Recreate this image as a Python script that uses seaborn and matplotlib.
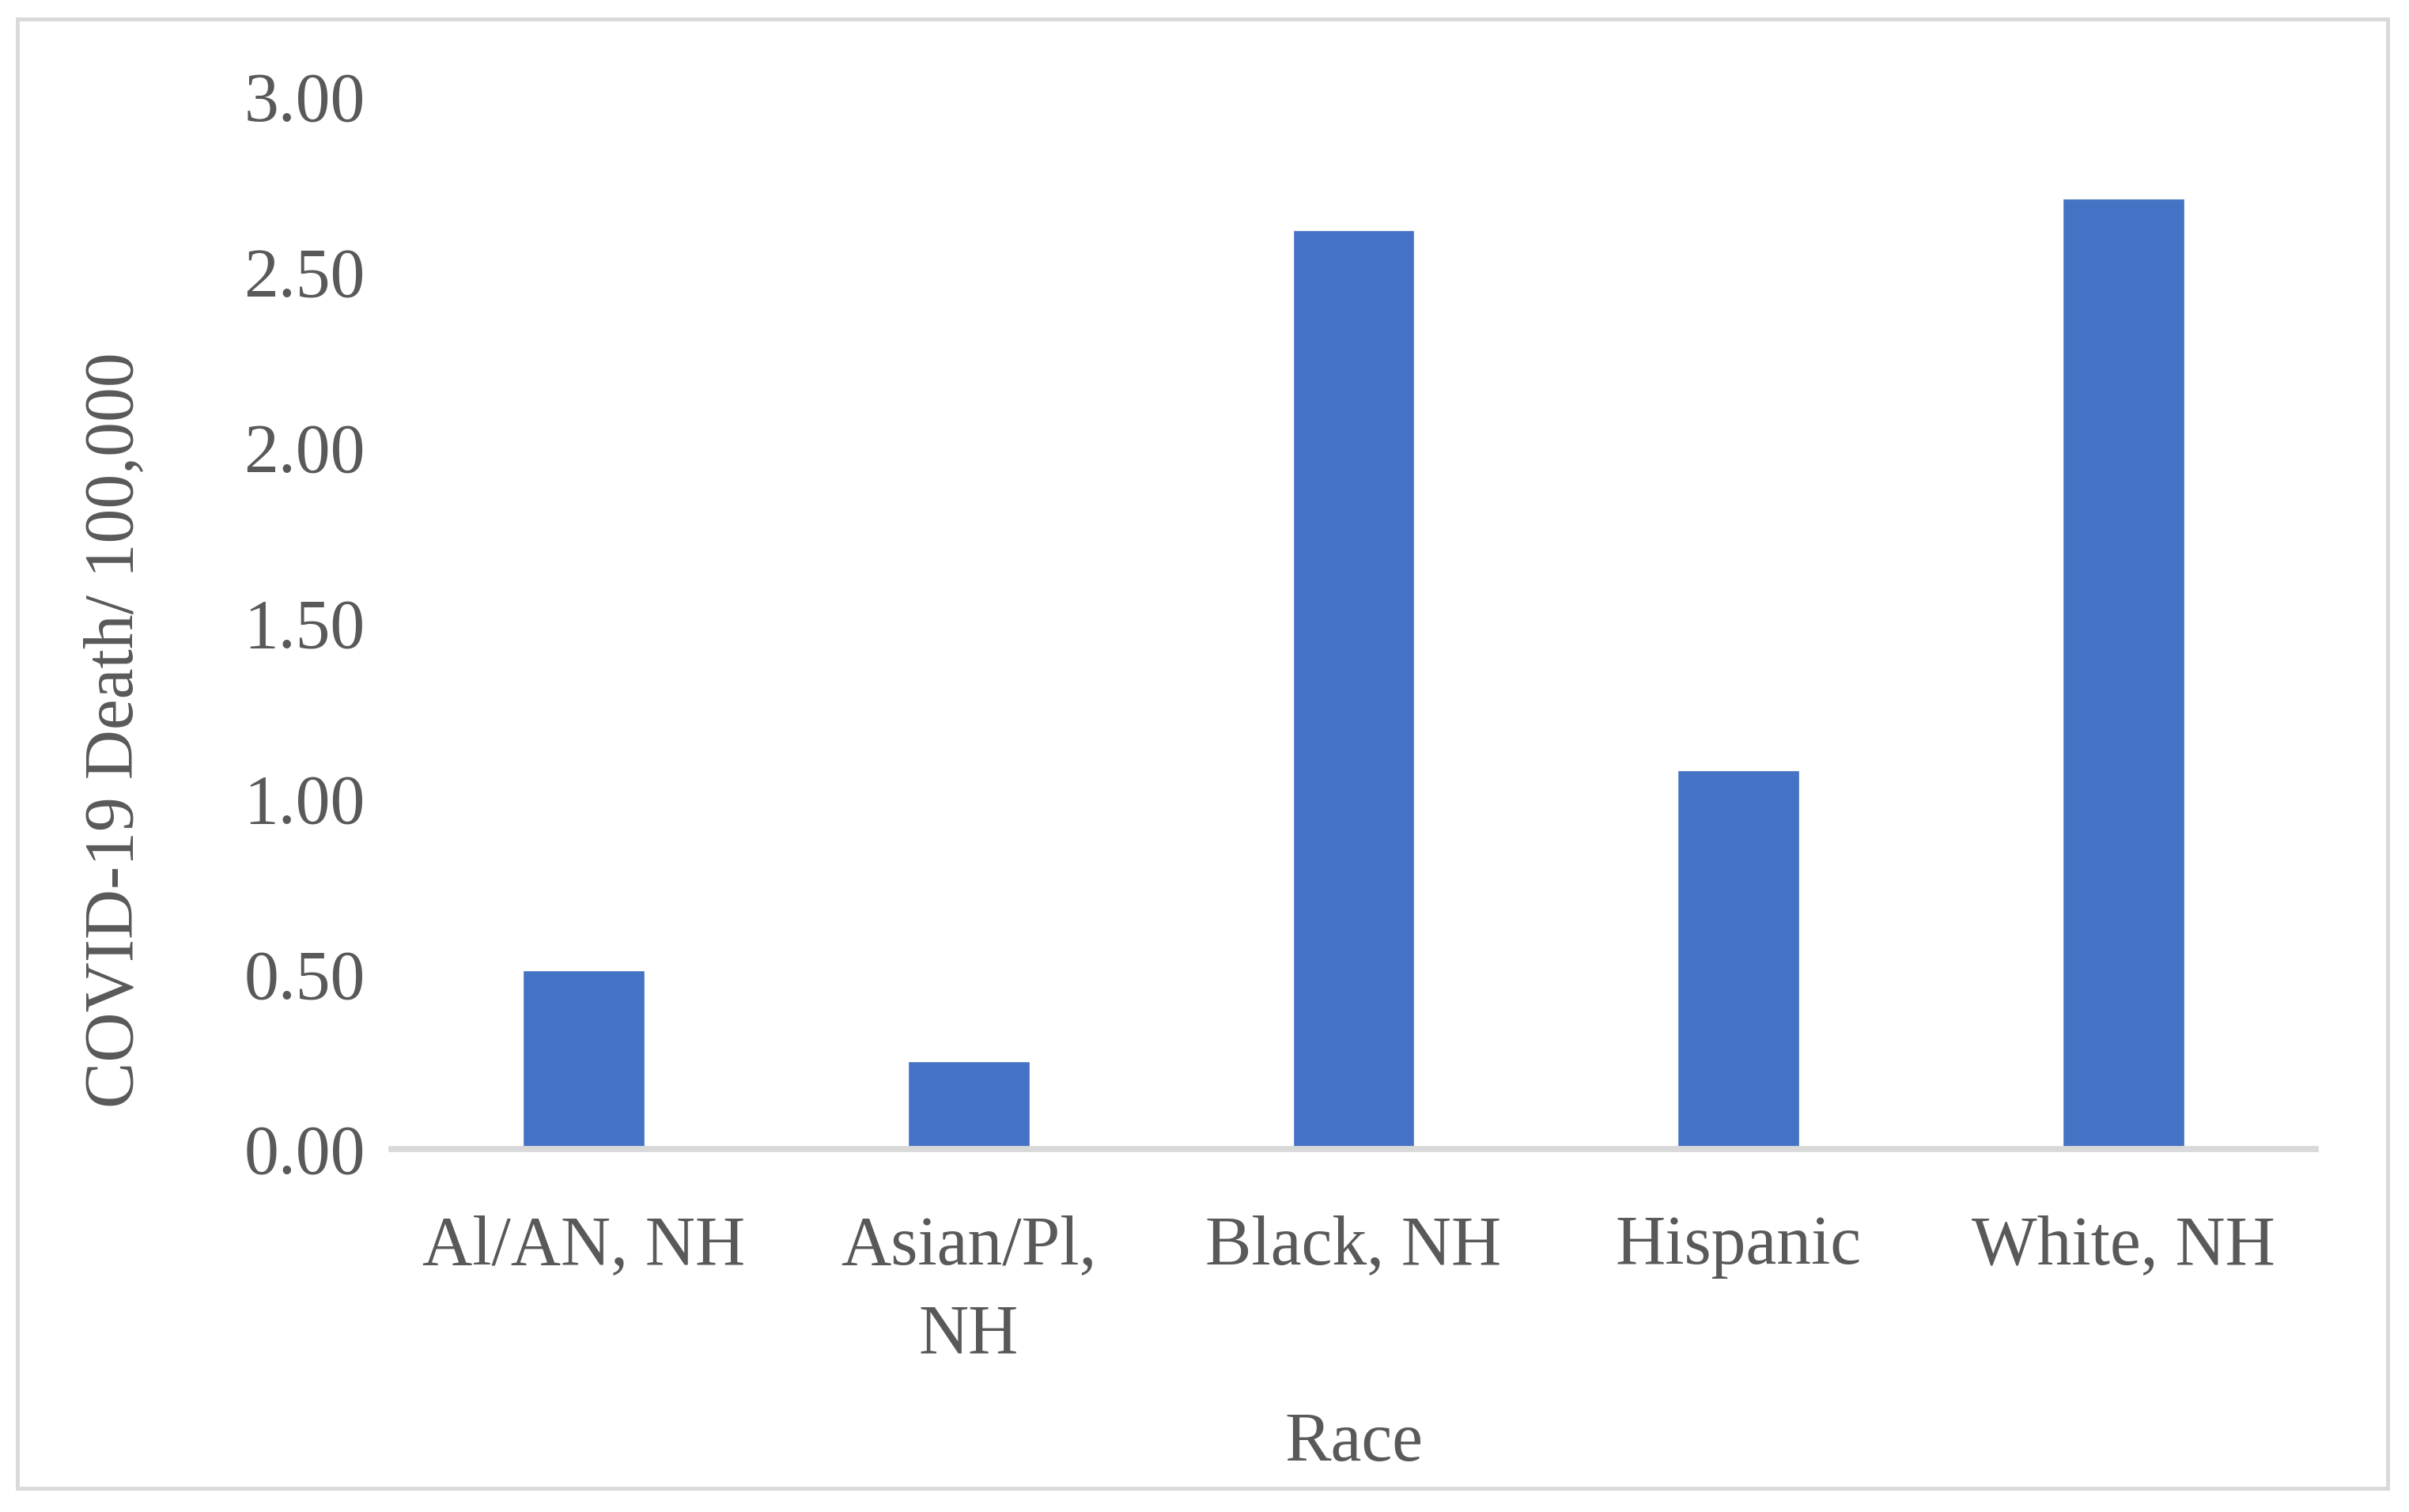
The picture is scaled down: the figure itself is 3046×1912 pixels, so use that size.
import matplotlib
matplotlib.use("Agg")
import matplotlib.pyplot as plt
import seaborn as sns
from matplotlib.patches import Rectangle

# values
races = ["Al/AN, NH", "Asian/Pl,\nNH", "Black, NH", "Hispanic", "White, NH"]
deaths_per_100k = [0.51, 0.25, 2.62, 1.08, 2.71]
y_ticks = [0.0, 0.5, 1.0, 1.5, 2.0, 2.5, 3.0]

bar_color = "#4472C4"
text_color = "#595959"
line_color = "#D9D9D9"

sns.set_style("white")
plt.rcParams["font.family"] = ["Liberation Serif", "DejaVu Serif"]

fig = plt.figure(figsize=(30.46, 19.12), dpi=100)
ax = fig.add_axes([0.1625, 0.2401, 0.7988, 0.6961])

sns.barplot(
    x=races, y=deaths_per_100k, color=bar_color, saturation=1,
    width=0.316, ax=ax, zorder=2,
)

ax.set_ylim(0, 3.0)
ax.set_yticks(y_ticks)
ax.set_yticklabels([f"{t:.2f}" for t in y_ticks])
ax.tick_params(axis="y", length=0, pad=24, labelsize=63, labelcolor=text_color)
ax.tick_params(axis="x", length=0, pad=60, labelsize=63, labelcolor=text_color)
for lbl in ax.get_xticklabels():
    lbl.set_linespacing(1.5)

for side in ["top", "right", "left"]:
    ax.spines[side].set_visible(False)
ax.spines["bottom"].set_color(line_color)
ax.spines["bottom"].set_linewidth(5.6)
ax.spines["bottom"].set_zorder(3)
ax.grid(False)

ax.set_xlabel("Race", fontsize=63, color=text_color)
ax.xaxis.set_label_coords(0.5, -0.280)
ax.xaxis.label.set_va("center")
ax.set_ylabel("COVID-19 Death/ 100,000", fontsize=63, color=text_color)
ax.yaxis.set_label_coords(-0.1434, 0.398)
ax.yaxis.label.set_va("center")

# light grey chart-area border
fig.patches.append(Rectangle(
    (0.0072, 0.0157), 0.9839, 0.9717, transform=fig.transFigure,
    fill=False, edgecolor=line_color, linewidth=3.5,
))

fig.savefig("out.png", dpi=100, facecolor="white")
